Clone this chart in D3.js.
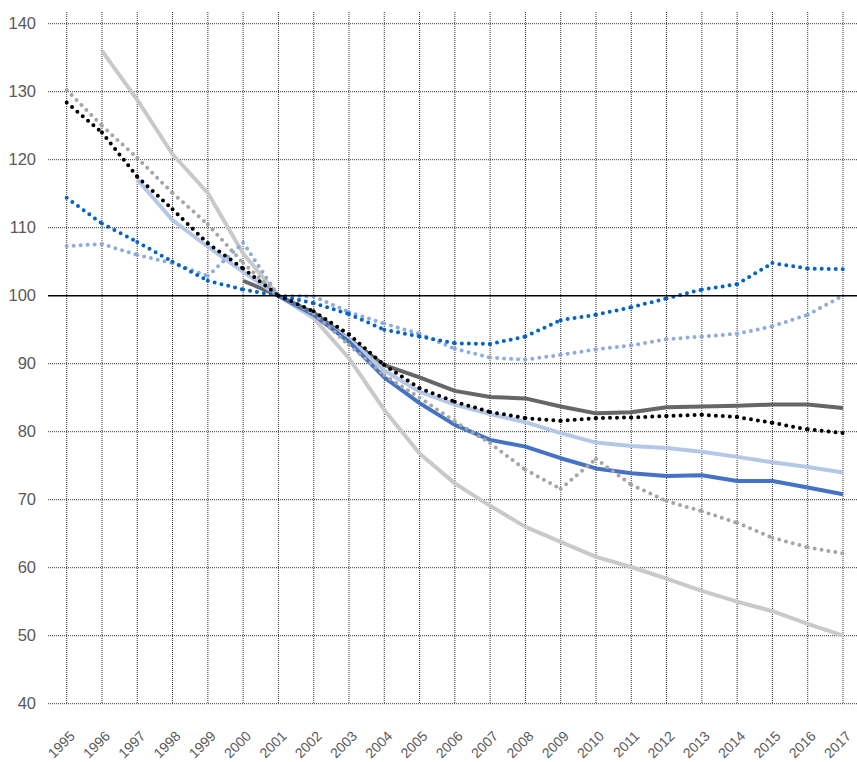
<!DOCTYPE html>
<html><head><meta charset="utf-8">
<script src="https://cdn.jsdelivr.net/npm/d3@7"></script>
<style>body{margin:0;background:#fff}svg{display:block}</style>
</head><body><svg id="c" width="857" height="762"></svg>
<script>
const years = d3.range(1995, 2018);
const yTicks = [40,50,60,70,80,90,100,110,120,130,140];

// series values (null = no data)
const lightGraySolid = [null,136.0,128.8,120.8,115.1,106.2,100,96.7,90.8,83.2,76.8,72.4,69.1,66.0,63.8,61.6,60.1,58.4,56.6,55.0,53.6,51.75,50.0];
const grayDotted     = [130.25,125.0,120.25,115.1,110.5,104.8,100,97.4,92.75,88.3,85.0,81.5,78.3,74.4,71.6,76.0,72.2,69.8,68.3,66.6,64.4,63.0,62.1];
const darkGraySolid  = [null,null,null,null,null,102.2,100,97.5,93.6,89.8,88.0,86.0,85.1,84.9,83.7,82.7,82.85,83.6,83.7,83.8,84.0,84.0,83.5];
const lightBlueSolid = [null,null,117.1,111.1,107.2,103.5,100,97.0,93.6,89.0,85.9,84.0,82.6,81.4,79.8,78.4,77.9,77.6,77.06,76.3,75.5,74.8,74.0];
const blueSolid      = [null,null,null,null,null,null,100,97.2,93.2,88.0,84.2,81.0,78.8,77.8,76.1,74.6,73.9,73.5,73.6,72.75,72.75,71.8,70.8];
const lightBlueDotted= [107.3,107.6,106.0,104.8,102.9,107.8,100,99.9,97.6,95.9,94.4,92.2,90.9,90.6,91.3,92.1,92.7,93.6,94.0,94.4,95.5,97.2,100.0];
const darkBlueDotted = [114.4,110.6,107.9,105.0,102.2,100.9,100,98.9,97.3,95.0,94.0,93.0,92.9,94.0,96.4,97.2,98.3,99.6,100.9,101.7,104.8,104.0,103.9];
const blackDotted    = [128.4,124.0,117.5,112.7,107.7,104.0,100,97.7,94.3,89.8,86.4,84.4,82.9,82.0,81.6,82.0,82.1,82.3,82.5,82.15,81.3,80.35,79.8];

const series = [
  {v: lightGraySolid, color:"#c9c9c9", dotted:false},
  {v: darkGraySolid, color:"#666666", dotted:false},
  {v: lightBlueSolid, color:"#b4c7e7", dotted:false},
  {v: blueSolid, color:"#4472c4", dotted:false},
  {v: grayDotted, color:"#a5a5a5", dotted:true},
  {v: lightBlueDotted, color:"#8faadc", dotted:true},
  {v: darkBlueDotted, color:"#0563c1", dotted:true},
  {v: blackDotted, color:"#000000", dotted:true}
];

const svg = d3.select("#c");
const x = d3.scaleLinear().domain([1995, 2017]).range([66.7, 843]);
const y = d3.scaleLinear().domain([40, 140]).range([703.7, 23.7]);

// horizontal gridlines
svg.append("g").selectAll("line").data(yTicks.filter(t => t !== 100)).join("line")
  .attr("x1", 48).attr("x2", 857)
  .attr("y1", d => y(d)).attr("y2", d => y(d))
  .attr("stroke", "#333").attr("stroke-width", 1).attr("stroke-dasharray", "1 1");
// vertical gridlines
svg.append("g").selectAll("line").data(years).join("line")
  .attr("x1", d => x(d)).attr("x2", d => x(d))
  .attr("y1", 12).attr("y2", y(40))
  .attr("stroke", "#333").attr("stroke-width", 1).attr("stroke-dasharray", "1 1");

// y labels
svg.append("g").selectAll("text").data(yTicks).join("text")
  .attr("x", 36).attr("y", d => y(d) + 5.5)
  .attr("text-anchor", "end")
  .attr("font-family", "Liberation Sans, Arial, sans-serif").attr("font-size", 16.5)
  .attr("fill", "#595959").text(d => d);

// x labels
svg.append("g").selectAll("text").data(years).join("text")
  .attr("text-anchor", "end")
  .attr("transform", d => `translate(${x(d) + 9},${737}) rotate(-45)`)
  .attr("font-family", "Liberation Sans, Arial, sans-serif").attr("font-size", 14)
  .attr("fill", "#595959").text(d => d);

// series
const line = d3.line().x(d => x(d[0])).y(d => y(d[1]));
series.forEach(s => {
  const pts = years.map((yr, i) => [yr, s.v[i]]).filter(p => p[1] != null);
  if (!s.dotted) {
    svg.append("path").attr("d", line(pts)).attr("fill", "none")
      .attr("stroke", s.color).attr("stroke-width", 4).attr("stroke-linejoin", "round");
  } else {
    const g = svg.append("g");
    for (let i = 0; i < pts.length - 1; i++) {
      g.append("path").attr("d", line([pts[i], pts[i + 1]])).attr("fill", "none")
        .attr("stroke", s.color).attr("stroke-width", 4)
        .attr("stroke-linecap", "round").attr("stroke-dasharray", "0 7");
    }
  }
});

// 100 reference line
svg.append("line").attr("x1", 48).attr("x2", 857)
  .attr("y1", y(100)).attr("y2", y(100))
  .attr("stroke", "#000").attr("stroke-width", 1.5);
</script></body></html>
